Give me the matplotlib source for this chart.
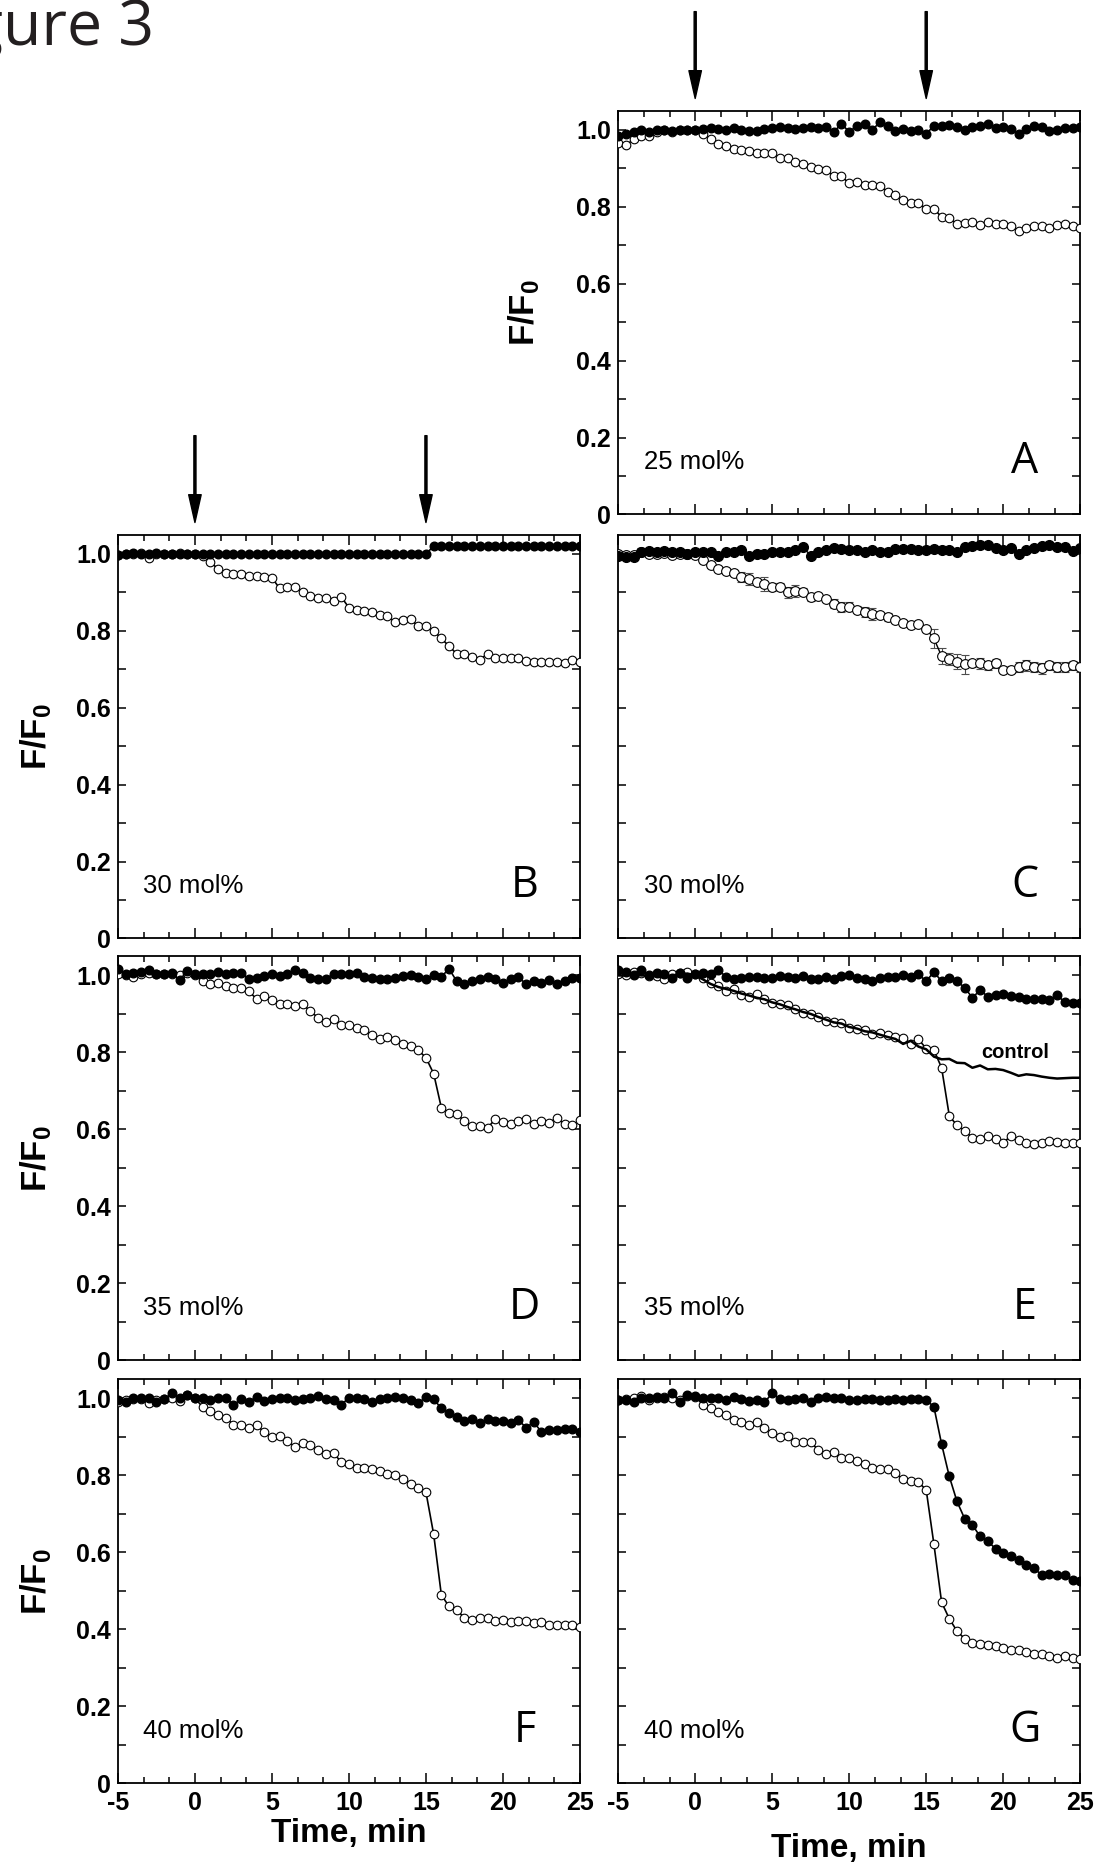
import matplotlib
matplotlib.use("Agg")
import matplotlib.pyplot as plt
from matplotlib.ticker import MultipleLocator

plt.rcParams['font.family'] = ['Liberation Sans', 'DejaVu Sans']
plt.rcParams['mathtext.fontset'] = 'custom'
plt.rcParams['mathtext.bf'] = 'Liberation Sans:bold'
plt.rcParams['mathtext.rm'] = 'Liberation Sans'

# sampling times (min)
time_min = [-5.0, -4.5, -4.0, -3.5, -3.0, -2.5, -2.0, -1.5, -1.0, -0.5,
            0.0, 0.5, 1.0, 1.5, 2.0, 2.5, 3.0, 3.5, 4.0, 4.5,
            5.0, 5.5, 6.0, 6.5, 7.0, 7.5, 8.0, 8.5, 9.0, 9.5,
            10.0, 10.5, 11.0, 11.5, 12.0, 12.5, 13.0, 13.5, 14.0, 14.5,
            15.0, 15.5, 16.0, 16.5, 17.0, 17.5, 18.0, 18.5, 19.0, 19.5,
            20.0, 20.5, 21.0, 21.5, 22.0, 22.5, 23.0, 23.5, 24.0, 24.5,
            25.0]

# panel A, 25 mol%
A_open = [0.965, 0.960, 0.975, 0.985, 0.985, 0.995, 1.000, 0.995, 1.000, 1.000,
          1.000, 0.990, 0.976, 0.963, 0.958, 0.951, 0.948, 0.945, 0.940, 0.940,
          0.939, 0.926, 0.927, 0.916, 0.910, 0.903, 0.899, 0.896, 0.879, 0.879,
          0.861, 0.865, 0.857, 0.857, 0.855, 0.839, 0.830, 0.817, 0.811, 0.811,
          0.793, 0.795, 0.773, 0.771, 0.755, 0.758, 0.760, 0.752, 0.760, 0.755,
          0.755, 0.749, 0.737, 0.746, 0.750, 0.749, 0.746, 0.753, 0.755, 0.749,
          0.746]
A_filled = [0.985, 0.990, 0.995, 1.000, 0.995, 1.000, 1.000, 0.998, 1.000, 1.000,
            1.000, 1.003, 1.005, 1.003, 1.000, 1.005, 1.000, 0.998, 0.997, 1.003,
            1.005, 1.008, 1.005, 1.003, 1.005, 1.008, 1.005, 1.008, 0.995, 1.015,
            0.995, 1.010, 1.015, 1.000, 1.020, 1.010, 0.998, 1.003, 0.997, 1.000,
            0.990, 1.010, 1.010, 1.012, 1.008, 1.000, 1.008, 1.010, 1.015, 1.005,
            1.008, 1.003, 0.990, 1.003, 1.010, 1.008, 0.998, 1.000, 1.005, 1.005,
            1.008]

# panel B, 30 mol%
B_open = [0.997, 0.999, 1.000, 1.002, 0.990, 1.000, 1.000, 1.000, 1.001, 1.000,
          1.000, 0.995, 0.980, 0.960, 0.950, 0.948, 0.948, 0.943, 0.943, 0.940,
          0.938, 0.910, 0.915, 0.915, 0.900, 0.890, 0.885, 0.885, 0.877, 0.888,
          0.860, 0.855, 0.852, 0.848, 0.840, 0.838, 0.822, 0.828, 0.830, 0.812,
          0.812, 0.800, 0.780, 0.760, 0.740, 0.740, 0.732, 0.725, 0.740, 0.728,
          0.730, 0.730, 0.728, 0.722, 0.720, 0.718, 0.720, 0.718, 0.715, 0.725,
          0.720]
B_filled = [0.998, 1.000, 1.002, 1.000, 1.000, 1.001, 1.000, 1.000, 1.000, 1.000,
            1.000, 1.000, 1.000, 1.000, 1.000, 1.000, 1.000, 1.000, 1.000, 1.000,
            1.000, 1.000, 1.000, 1.000, 1.000, 1.000, 1.000, 1.000, 1.000, 1.000,
            1.000, 1.000, 1.000, 1.000, 1.000, 1.000, 1.000, 1.000, 1.000, 1.000,
            1.000, 1.020, 1.020, 1.020, 1.020, 1.020, 1.020, 1.020, 1.020, 1.020,
            1.020, 1.020, 1.020, 1.020, 1.020, 1.020, 1.020, 1.020, 1.020, 1.020,
            1.020]

# panel C, 30 mol% (mean +/- error)
C_open = [1.000, 0.998, 0.998, 1.005, 1.000, 1.000, 1.002, 0.998, 1.000, 1.000,
          0.998, 0.983, 0.970, 0.960, 0.955, 0.950, 0.940, 0.935, 0.927, 0.922,
          0.913, 0.915, 0.900, 0.903, 0.900, 0.888, 0.891, 0.883, 0.870, 0.862,
          0.863, 0.855, 0.849, 0.843, 0.840, 0.836, 0.829, 0.820, 0.816, 0.818,
          0.805, 0.780, 0.734, 0.727, 0.720, 0.713, 0.715, 0.715, 0.710, 0.715,
          0.697, 0.699, 0.706, 0.710, 0.706, 0.702, 0.710, 0.706, 0.706, 0.710,
          0.706]
C_open_err = [0.005, 0.005, 0.005, 0.010, 0.008, 0.005, 0.005, 0.005, 0.005, 0.005,
              0.006, 0.008, 0.008, 0.006, 0.006, 0.008, 0.012, 0.015, 0.008, 0.018,
              0.010, 0.010, 0.015, 0.015, 0.010, 0.010, 0.008, 0.008, 0.012, 0.012,
              0.012, 0.010, 0.012, 0.015, 0.008, 0.010, 0.008, 0.006, 0.005, 0.008,
              0.008, 0.025, 0.020, 0.015, 0.020, 0.025, 0.010, 0.015, 0.012, 0.012,
              0.008, 0.010, 0.012, 0.015, 0.012, 0.015, 0.012, 0.012, 0.012, 0.012,
              0.012]
C_filled = [0.995, 0.993, 0.993, 1.005, 1.007, 1.005, 1.007, 1.005, 1.005, 1.000,
            1.005, 1.005, 1.005, 0.995, 1.005, 1.005, 1.010, 0.995, 1.000, 1.000,
            1.005, 1.005, 1.005, 1.010, 1.018, 0.995, 1.005, 1.010, 1.015, 1.013,
            1.010, 1.010, 1.005, 1.010, 1.005, 1.005, 1.013, 1.013, 1.013, 1.010,
            1.010, 1.013, 1.010, 1.010, 1.005, 1.018, 1.020, 1.022, 1.022, 1.015,
            1.010, 1.015, 1.000, 1.010, 1.015, 1.020, 1.022, 1.018, 1.018, 1.008,
            1.015]
C_filled_err = [0.008, 0.005, 0.010, 0.005, 0.005, 0.005, 0.005, 0.005, 0.005, 0.005,
                0.005, 0.005, 0.005, 0.005, 0.005, 0.005, 0.005, 0.005, 0.005, 0.005,
                0.005, 0.005, 0.005, 0.005, 0.005, 0.005, 0.005, 0.005, 0.005, 0.005,
                0.005, 0.005, 0.005, 0.005, 0.005, 0.005, 0.005, 0.005, 0.005, 0.005,
                0.005, 0.005, 0.005, 0.005, 0.005, 0.005, 0.008, 0.005, 0.005, 0.005,
                0.005, 0.005, 0.005, 0.005, 0.005, 0.005, 0.005, 0.005, 0.005, 0.005,
                0.005]

# panel D, 35 mol%
D_open = [1.005, 1.000, 0.997, 1.005, 1.007, 1.005, 1.003, 1.003, 1.000, 1.007,
          1.000, 0.985, 0.977, 0.981, 0.972, 0.968, 0.968, 0.959, 0.939, 0.946,
          0.936, 0.927, 0.927, 0.920, 0.925, 0.907, 0.890, 0.879, 0.887, 0.870,
          0.870, 0.864, 0.858, 0.844, 0.836, 0.841, 0.832, 0.821, 0.816, 0.806,
          0.786, 0.745, 0.656, 0.643, 0.639, 0.622, 0.609, 0.609, 0.604, 0.626,
          0.619, 0.613, 0.622, 0.626, 0.613, 0.622, 0.617, 0.630, 0.613, 0.610,
          0.624]
D_filled = [1.017, 1.003, 1.007, 1.009, 1.014, 1.005, 1.003, 1.007, 0.988, 1.011,
            1.005, 1.005, 1.003, 1.009, 1.005, 1.007, 1.007, 0.991, 0.994, 0.998,
            1.005, 0.998, 1.005, 1.014, 1.007, 0.994, 0.991, 0.990, 1.005, 1.005,
            1.005, 1.007, 0.997, 0.994, 0.991, 0.991, 0.994, 0.998, 1.000, 0.997,
            0.990, 1.000, 0.997, 1.017, 0.985, 0.977, 0.985, 0.990, 0.997, 0.991,
            0.981, 0.991, 0.997, 0.977, 0.985, 0.981, 0.988, 0.979, 0.985, 0.994,
            0.994]

# panel E, 35 mol% (+ control trace)
E_open = [1.003, 1.000, 1.009, 1.007, 0.998, 0.998, 0.990, 1.005, 1.007, 1.009,
          1.005, 0.994, 0.981, 0.972, 0.959, 0.965, 0.948, 0.945, 0.951, 0.938,
          0.929, 0.927, 0.922, 0.912, 0.903, 0.899, 0.893, 0.881, 0.879, 0.877,
          0.864, 0.860, 0.858, 0.849, 0.851, 0.844, 0.841, 0.838, 0.821, 0.834,
          0.810, 0.806, 0.760, 0.635, 0.610, 0.596, 0.578, 0.576, 0.583, 0.574,
          0.565, 0.583, 0.572, 0.565, 0.561, 0.565, 0.570, 0.568, 0.565, 0.565,
          0.565]
E_filled = [1.014, 1.009, 1.000, 1.014, 1.000, 1.007, 1.003, 0.994, 1.007, 0.994,
            1.005, 1.007, 1.003, 1.014, 0.997, 0.991, 0.994, 0.997, 0.997, 0.994,
            0.994, 0.998, 0.997, 0.994, 0.998, 0.991, 0.991, 0.997, 0.991, 0.998,
            1.000, 0.994, 0.991, 0.985, 0.994, 0.997, 0.997, 1.000, 0.997, 1.003,
            0.985, 1.009, 0.985, 0.994, 0.985, 0.968, 0.942, 0.962, 0.945, 0.948,
            0.953, 0.946, 0.945, 0.938, 0.938, 0.939, 0.936, 0.948, 0.931, 0.929,
            0.929]
E_control = [1.000, 1.000, 1.003, 1.000, 1.000, 0.998, 0.995, 1.000, 1.003, 1.005,
             1.000, 0.990, 0.978, 0.970, 0.965, 0.960, 0.953, 0.948, 0.942, 0.938,
             0.930, 0.925, 0.918, 0.912, 0.905, 0.900, 0.892, 0.885, 0.878, 0.875,
             0.866, 0.862, 0.855, 0.852, 0.846, 0.840, 0.835, 0.822, 0.830, 0.815,
             0.808, 0.789, 0.782, 0.783, 0.773, 0.772, 0.760, 0.766, 0.756, 0.757,
             0.754, 0.747, 0.739, 0.743, 0.741, 0.737, 0.734, 0.732, 0.733, 0.734,
             0.734]

# panel F, 40 mol%
F_open = [0.991, 0.996, 0.998, 0.998, 0.987, 0.996, 0.998, 1.002, 0.993, 1.010,
          1.000, 0.978, 0.967, 0.958, 0.950, 0.932, 0.932, 0.924, 0.931, 0.912,
          0.900, 0.903, 0.889, 0.874, 0.883, 0.879, 0.866, 0.855, 0.857, 0.835,
          0.829, 0.820, 0.820, 0.816, 0.810, 0.803, 0.800, 0.790, 0.777, 0.766,
          0.756, 0.647, 0.489, 0.459, 0.450, 0.429, 0.425, 0.428, 0.430, 0.422,
          0.425, 0.418, 0.422, 0.420, 0.415, 0.418, 0.412, 0.410, 0.412, 0.410,
          0.405]
F_filled = [0.996, 0.991, 1.002, 1.002, 1.002, 0.991, 0.998, 1.013, 1.002, 1.010,
            1.002, 1.000, 0.996, 1.002, 1.002, 0.983, 0.998, 0.991, 1.004, 0.993,
            0.998, 1.002, 1.000, 0.996, 0.998, 1.002, 1.007, 0.998, 0.996, 0.983,
            1.002, 1.002, 0.998, 0.990, 0.998, 1.000, 1.004, 1.000, 0.996, 0.987,
            1.004, 0.998, 0.974, 0.961, 0.952, 0.941, 0.946, 0.935, 0.946, 0.941,
            0.941, 0.935, 0.944, 0.924, 0.938, 0.913, 0.918, 0.918, 0.920, 0.920,
            0.913]

# panel G, 40 mol%
G_open = [0.996, 0.998, 1.002, 1.007, 0.996, 1.002, 1.004, 1.002, 0.996, 1.007,
          1.004, 0.984, 0.976, 0.964, 0.958, 0.944, 0.938, 0.932, 0.939, 0.922,
          0.909, 0.900, 0.903, 0.887, 0.887, 0.886, 0.866, 0.855, 0.860, 0.844,
          0.844, 0.837, 0.829, 0.818, 0.816, 0.816, 0.805, 0.790, 0.785, 0.782,
          0.762, 0.621, 0.470, 0.427, 0.395, 0.375, 0.365, 0.362, 0.360, 0.355,
          0.350, 0.345, 0.345, 0.340, 0.335, 0.335, 0.330, 0.325, 0.330, 0.325,
          0.322]
G_filled = [0.996, 0.996, 0.991, 1.002, 1.002, 1.004, 1.002, 1.013, 0.991, 1.009,
            1.007, 1.002, 1.002, 1.002, 0.996, 1.004, 0.998, 0.993, 0.996, 0.990,
            1.013, 0.998, 0.996, 0.998, 1.002, 0.990, 1.002, 1.004, 1.000, 1.000,
            0.996, 0.996, 0.998, 0.998, 0.996, 0.996, 0.998, 0.996, 0.998, 0.998,
            0.996, 0.978, 0.881, 0.797, 0.732, 0.687, 0.671, 0.641, 0.629, 0.609,
            0.597, 0.589, 0.580, 0.567, 0.558, 0.541, 0.543, 0.541, 0.541, 0.528,
            0.526]

panel_letters = ['A', 'B', 'C', 'D', 'E', 'F', 'G']
panel_conc = ['25 mol%', '30 mol%', '30 mol%', '35 mol%', '35 mol%', '40 mol%', '40 mol%']
arrow_times = [0, 15]

fig = plt.figure(figsize=(10.98, 18.68), dpi=100)

W, H = 0.4208, 0.2162
xl, xr = 0.1074, 0.563
rects = {
    'A': [xr, 0.7246, W, H],
    'B': [xl, 0.4976, W, H], 'C': [xr, 0.4976, W, H],
    'D': [xl, 0.2719, W, H], 'E': [xr, 0.2719, W, H],
    'F': [xl, 0.0455, W, H], 'G': [xr, 0.0455, W, H],
}

series = {
    'A': (A_open, A_filled), 'B': (B_open, B_filled), 'C': (C_open, C_filled),
    'D': (D_open, D_filled), 'E': (E_open, E_filled), 'F': (F_open, F_filled),
    'G': (G_open, G_filled),
}

ms = 6.2
for letter, conc in zip(panel_letters, panel_conc):
    ax = fig.add_axes(rects[letter])
    yo, yf = series[letter]
    if letter == 'C':
        ax.errorbar(time_min, yo, yerr=C_open_err, fmt='-o', color='black', lw=1.0,
                    ms=ms + 0.8, mfc='white', mec='black', mew=0.8,
                    ecolor='0.3', elinewidth=0.8, capsize=3, capthick=0.8, zorder=3)
        ax.errorbar(time_min, yf, yerr=C_filled_err, fmt='-o', color='black', lw=1.0,
                    ms=ms + 0.8, mfc='black', mec='black',
                    ecolor='0.3', elinewidth=0.8, capsize=3, capthick=0.8, zorder=4)
    else:
        ax.plot(time_min, yo, '-o', color='black', lw=1.2, ms=ms, mfc='white',
                mec='black', mew=0.8, zorder=3)
        ax.plot(time_min, yf, '-o', color='black', lw=1.2, ms=ms, mfc='black',
                mec='black', zorder=4)
    if letter == 'E':
        ax.plot(time_min, E_control, '-', color='black', lw=1.8, zorder=5)
        ax.text(20.8, 0.80, 'control', fontsize=14.5, fontweight='bold',
                ha='center', va='center')

    ax.set_xlim(-5, 25)
    ax.set_ylim(0, 1.05)
    ax.xaxis.set_major_locator(MultipleLocator(5))
    ax.xaxis.set_minor_locator(MultipleLocator(5 / 3))
    ax.yaxis.set_major_locator(MultipleLocator(0.2))
    ax.yaxis.set_minor_locator(MultipleLocator(0.1))
    ax.tick_params(which='both', direction='in', top=True, right=True,
                   width=1.1, labelsize=18)
    ax.tick_params(axis='x', which='major', length=7, pad=6)
    ax.tick_params(axis='x', which='minor', length=4)
    ax.tick_params(axis='y', which='major', length=6, pad=5)
    ax.tick_params(axis='y', which='minor', length=6)
    for sp in ax.spines.values():
        sp.set_linewidth(1.3)

    ax.set_yticks([0, 0.2, 0.4, 0.6, 0.8, 1.0])
    ax.set_yticklabels(['0', '0.2', '0.4', '0.6', '0.8', '1.0'], fontweight='bold')

    if letter in ('C', 'E', 'G'):
        ax.tick_params(axis='y', labelleft=False)
    else:
        ax.set_ylabel(r'$\mathbf{F/F_0}$', fontsize=25)
        ax.yaxis.label.set_va('center')
        ax.yaxis.set_label_coords(-0.203 if letter == 'A' else -0.177, 0.5)

    if letter in ('F', 'G'):
        ax.set_xticks([-5, 0, 5, 10, 15, 20, 25])
        ax.set_xticklabels(['-5', '0', '5', '10', '15', '20', '25'], fontweight='bold')
        ax.set_xlabel('Time, min', fontsize=24, fontweight='bold')
        ax.xaxis.label.set_va('center')
        ax.xaxis.set_label_coords(0.5, -0.126 if letter == 'F' else -0.161)
    else:
        ax.tick_params(axis='x', labelbottom=False)

    ax.text(0.055, 0.13, conc, transform=ax.transAxes, fontsize=18.5,
            ha='left', va='center')
    ax.text(0.88, 0.13, letter, transform=ax.transAxes, fontsize=31,
            family=['Open Sans', 'DejaVu Sans'], ha='center', va='center')

    if letter in ('A', 'B'):
        for t in arrow_times:
            ax.annotate('', xy=(t, 1.03), xycoords=('data', 'axes fraction'),
                        xytext=(t, 1.245), textcoords=('data', 'axes fraction'),
                        arrowprops=dict(facecolor='black', edgecolor='black',
                                        width=1.5, headwidth=9, headlength=20,
                                        shrink=0),
                        annotation_clip=False)

# page title, partly cut at the left edge as in the source scan
fig.text(0.1405, 0.976, 'Figure 3', fontsize=45, ha='right', va='baseline',
         family=['Open Sans', 'DejaVu Sans'], color='#231f20')

fig.savefig('out.png', dpi=100)
